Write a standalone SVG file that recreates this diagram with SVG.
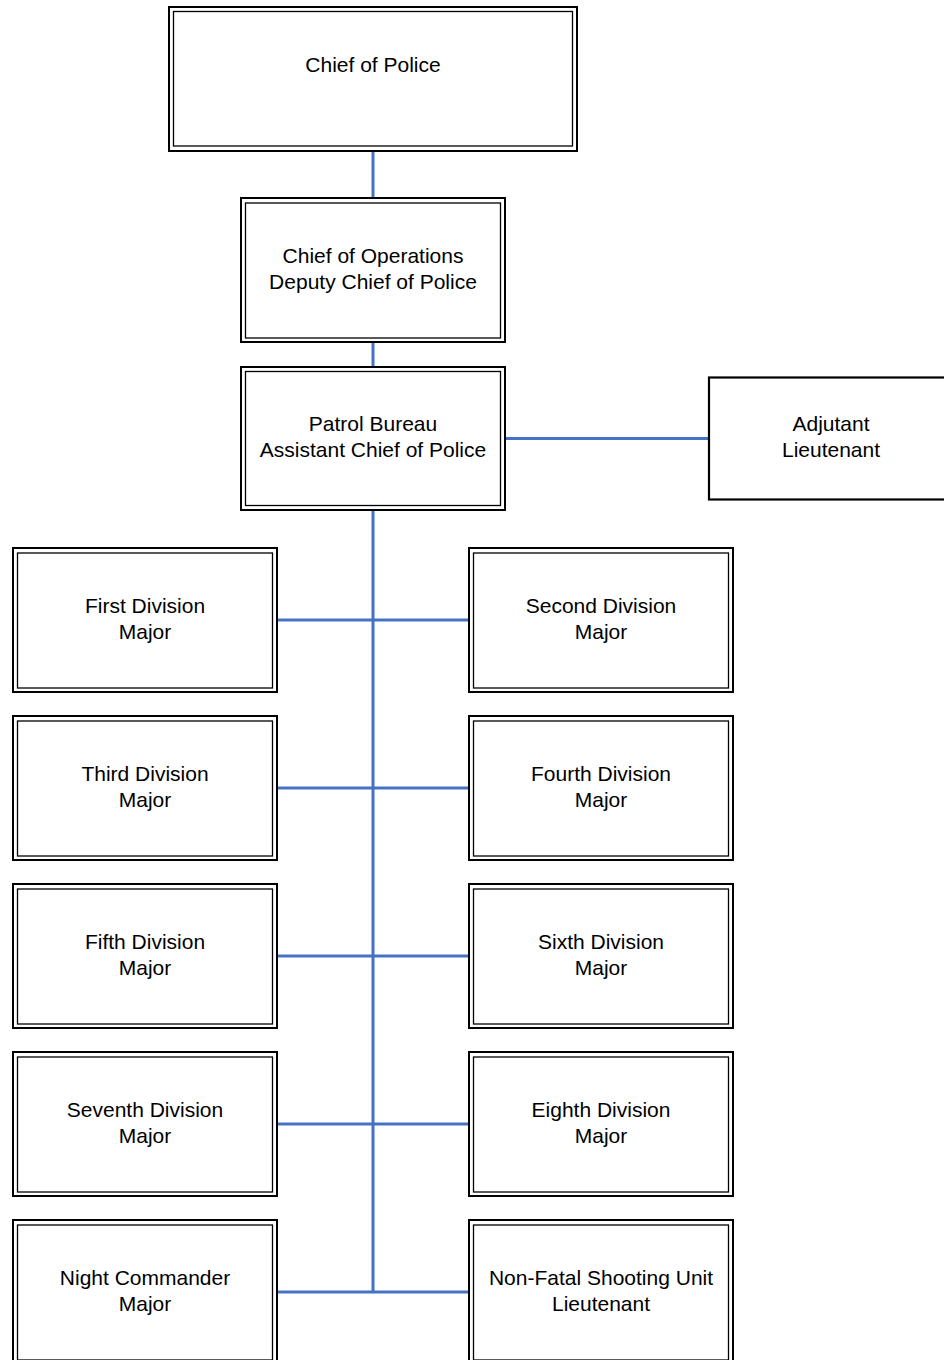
<svg xmlns="http://www.w3.org/2000/svg" width="944" height="1360" viewBox="0 0 944 1360">
  <style>
    .outer { fill: #ffffff; stroke: #000000; stroke-width: 2; }
    .inner { fill: none; stroke: #000000; stroke-width: 1.3; }
    .single { fill: #ffffff; stroke: #000000; stroke-width: 2.2; }
    .label { font-family: "Liberation Sans", Arial, sans-serif; font-size: 21px; fill: #000000; text-anchor: middle; }
    .link { stroke: #4472C4; stroke-width: 3; fill: none; }
  </style>
  <rect x="0" y="0" width="944" height="1360" fill="#ffffff"/>

  <!-- connectors -->
  <g id="connectors">
    <line class="link" x1="373" y1="151" x2="373" y2="198"/>
    <line class="link" x1="373" y1="342" x2="373" y2="367"/>
    <line class="link" x1="373" y1="510" x2="373" y2="1293"/>
    <line class="link" x1="505" y1="438.5" x2="709" y2="438.5"/>
    <line class="link" x1="277" y1="620" x2="469" y2="620"/>
    <line class="link" x1="277" y1="788" x2="469" y2="788"/>
    <line class="link" x1="277" y1="956" x2="469" y2="956"/>
    <line class="link" x1="277" y1="1124" x2="469" y2="1124"/>
    <line class="link" x1="277" y1="1292" x2="469" y2="1292"/>
  </g>

  <g id="chief">
    <rect class="outer" x="169" y="7" width="408" height="144"/>
    <rect class="inner" x="173.5" y="11.5" width="399" height="134.5"/>
    <text class="label" x="373" y="71.5">Chief of Police</text>
  </g>

  <g id="operations">
    <rect class="outer" x="241" y="198" width="264" height="144"/>
    <rect class="inner" x="245.5" y="203" width="255" height="135"/>
    <text class="label" x="373" y="263">Chief of Operations</text>
    <text class="label" x="373" y="289">Deputy Chief of Police</text>
  </g>

  <g id="patrol">
    <rect class="outer" x="241" y="367" width="264" height="143"/>
    <rect class="inner" x="245.5" y="371.5" width="255" height="134"/>
    <text class="label" x="373" y="431">Patrol Bureau</text>
    <text class="label" x="373" y="457">Assistant Chief of Police</text>
  </g>

  <g id="adjutant">
    <rect class="single" x="709" y="377.5" width="244" height="122"/>
    <text class="label" x="831" y="431">Adjutant</text>
    <text class="label" x="831" y="457">Lieutenant</text>
  </g>

  <g id="first-division">
    <rect class="outer" x="13" y="548" width="264" height="144"/>
    <rect class="inner" x="17.5" y="553" width="255" height="135"/>
    <text class="label" x="145" y="613">First Division</text>
    <text class="label" x="145" y="638.5">Major</text>
  </g>

  <g id="second-division">
    <rect class="outer" x="469" y="548" width="264" height="144"/>
    <rect class="inner" x="473.5" y="553" width="255" height="135"/>
    <text class="label" x="601" y="613">Second Division</text>
    <text class="label" x="601" y="638.5">Major</text>
  </g>

  <g id="third-division">
    <rect class="outer" x="13" y="716" width="264" height="144"/>
    <rect class="inner" x="17.5" y="721" width="255" height="135"/>
    <text class="label" x="145" y="781">Third Division</text>
    <text class="label" x="145" y="806.5">Major</text>
  </g>

  <g id="fourth-division">
    <rect class="outer" x="469" y="716" width="264" height="144"/>
    <rect class="inner" x="473.5" y="721" width="255" height="135"/>
    <text class="label" x="601" y="781">Fourth Division</text>
    <text class="label" x="601" y="806.5">Major</text>
  </g>

  <g id="fifth-division">
    <rect class="outer" x="13" y="884" width="264" height="144"/>
    <rect class="inner" x="17.5" y="889" width="255" height="135"/>
    <text class="label" x="145" y="949">Fifth Division</text>
    <text class="label" x="145" y="974.5">Major</text>
  </g>

  <g id="sixth-division">
    <rect class="outer" x="469" y="884" width="264" height="144"/>
    <rect class="inner" x="473.5" y="889" width="255" height="135"/>
    <text class="label" x="601" y="949">Sixth Division</text>
    <text class="label" x="601" y="974.5">Major</text>
  </g>

  <g id="seventh-division">
    <rect class="outer" x="13" y="1052" width="264" height="144"/>
    <rect class="inner" x="17.5" y="1057" width="255" height="135"/>
    <text class="label" x="145" y="1117">Seventh Division</text>
    <text class="label" x="145" y="1142.5">Major</text>
  </g>

  <g id="eighth-division">
    <rect class="outer" x="469" y="1052" width="264" height="144"/>
    <rect class="inner" x="473.5" y="1057" width="255" height="135"/>
    <text class="label" x="601" y="1117">Eighth Division</text>
    <text class="label" x="601" y="1142.5">Major</text>
  </g>

  <g id="night-commander">
    <rect class="outer" x="13" y="1220" width="264" height="144"/>
    <rect class="inner" x="17.5" y="1225" width="255" height="135"/>
    <text class="label" x="145" y="1285">Night Commander</text>
    <text class="label" x="145" y="1310.5">Major</text>
  </g>

  <g id="non-fatal-shooting">
    <rect class="outer" x="469" y="1220" width="264" height="144"/>
    <rect class="inner" x="473.5" y="1225" width="255" height="135"/>
    <text class="label" x="601" y="1285">Non-Fatal Shooting Unit</text>
    <text class="label" x="601" y="1310.5">Lieutenant</text>
  </g>
</svg>
